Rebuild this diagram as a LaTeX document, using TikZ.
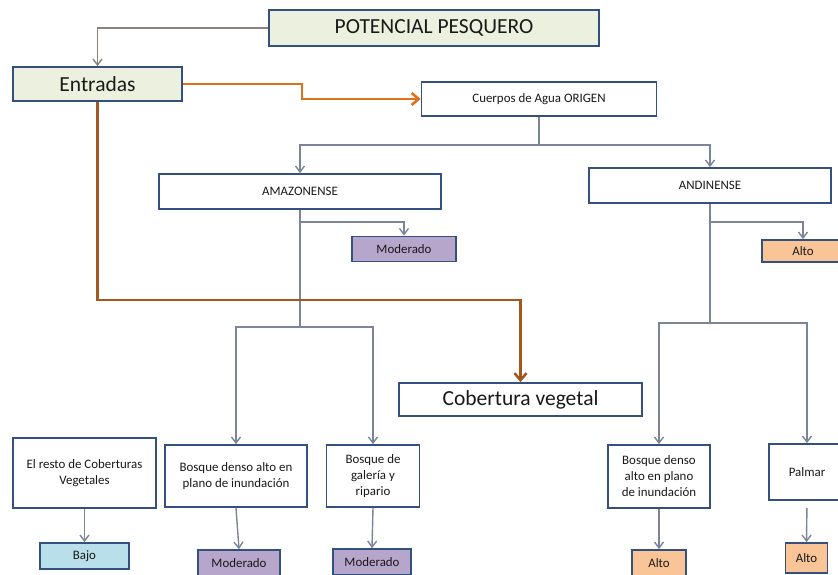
\documentclass[tikz,border=0pt]{standalone}
\usepackage{fontspec}
\setmainfont{Carlito}
\usetikzlibrary{arrows.meta}

\definecolor{boxline}{HTML}{34507F}
\definecolor{conn}{HTML}{7A859A}
\definecolor{topconn}{HTML}{8E817A}
\definecolor{orangeln}{HTML}{E0711C}
\definecolor{brownln}{HTML}{A2581F}
\definecolor{greenfill}{HTML}{EBF1DE}
\definecolor{modfill}{HTML}{B7A6CC}
\definecolor{altofill}{HTML}{F9C597}
\definecolor{bajofill}{HTML}{B9DFEA}

\newcommand\lblsmall{\fontsize{12.9}{16}\selectfont}
\newcommand\lblbig{\fontsize{21.5}{25}\selectfont}

\begin{document}
\begin{tikzpicture}[x=1pt,y=-1pt,
  box/.style={draw=boxline, line width=1.7pt, fill=white, inner sep=1pt,
              align=center, font=\lblsmall, text=black!90},
  bigbox/.style={box, font=\lblbig},
  greenbox/.style={bigbox, fill=greenfill},
  modbox/.style={box, fill=modfill},
  altobox/.style={box, fill=altofill},
  bajobox/.style={box, fill=bajofill},
  sz/.style 2 args={minimum width=#1, minimum height=#2},
  line/.style={draw=conn, line width=1.4pt},
  arr/.style={line, -{Straight Barb[length=6pt,width=9pt]}},
  toparr/.style={arr, draw=topconn},
  orangearr/.style={draw=orangeln, line width=2.6pt,
                    -{Straight Barb[length=7pt,width=12pt]}},
  brownarr/.style={draw=brownln, line width=2.6pt,
                   -{Straight Barb[length=7pt,width=12pt]}}
]
\useasboundingbox (0,0) rectangle (838,575);

% top level
\node[greenbox, sz={330pt}{36pt}] (pot) at (434,28) {POTENCIAL PESQUERO};
\node[greenbox, sz={169pt}{34pt}] (ent) at (97.5,84) {Entradas};
\node[box, sz={235pt}{34pt}] (cue) at (539,99) {Cuerpos de Agua ORIGEN};

% origin types
\node[box, sz={282pt}{35pt}] (ama) at (300,191.5) {AMAZONENSE};
\node[box, sz={242pt}{35pt}] (and) at (710,185.5) {ANDINENSE};
\node[modbox, sz={104pt}{25pt}] (modA) at (404,249) {Moderado};
\node[altobox, sz={82pt}{22pt}] (altA) at (803,251) {Alto};

% vegetation cover
\node[bigbox, sz={243pt}{33pt}] (cob) at (520.5,399.5) {Cobertura vegetal};

\node[box, sz={143pt}{70pt}] (resto) at (84.5,473) {El resto de Coberturas\\Vegetales};
\node[box, sz={142pt}{62pt}] (bdA) at (236,476) {Bosque denso alto en\\plano de inundación};
\node[box, sz={93pt}{62pt}] (bg) at (373,476) {Bosque de\\galería y\\ripario};
\node[box, sz={102pt}{63pt}] (bdN) at (659,476.5) {Bosque denso\\alto en plano\\de inundación};
\node[box, sz={76pt}{56pt}] (palm) at (807,472) {Palmar};

% ratings
\node[bajobox, sz={89pt}{26pt}] (bajo) at (84.5,556) {Bajo};
\node[modbox, sz={82pt}{26pt}] (modB1) at (239,563) {Moderado};
\node[modbox, sz={78pt}{26pt}] (modB2) at (372,562) {Moderado};
\node[altobox, sz={54pt}{26pt}] (altN1) at (659,563) {Alto};
\node[altobox, sz={42pt}{30pt}] (altN2) at (806.5,558) {Alto};

% junction points
\coordinate (ob) at (302,92);
\coordinate (bend) at (300,300);
\coordinate (jc) at (539,145);
\coordinate (ja1) at (300,222);
\coordinate (ja2) at (300,327);
\coordinate (jn1) at (710,222);
\coordinate (jn2) at (710,323);

% connectors
\draw[toparr] (pot.west) -| (ent.north);
\draw[orangearr] (ent.east) -| (ob) |- (cue.west);

\draw[arr] (cue.south) -- (jc) -| (ama.north);
\draw[arr] (jc) -| (and.north);

\draw[arr] (ama.south) -- (ja1) -| (modA.north);
\draw[line] (ja1) -- (ja2);
\draw[arr] (ja2) -| (bdA.north);
\draw[arr] (ja2) -| (bg.north);

\draw[arr] (and.south) -- (jn1) -| (altA.north);
\draw[line] (jn1) -- (jn2);
\draw[arr] (jn2) -| (bdN.north);
\draw[arr] (jn2) -| (palm.north);

\draw[brownarr] (ent.south) |- (bend) -| (cob.north);

\draw[arr] (resto.south) -- (bajo.north);
\draw[arr] (bdA.south) -- (modB1.north);
\draw[arr] (bg.south) -- (modB2.north);
\draw[arr] (bdN.south) -- (altN1.north);
\draw[arr, shorten <=7pt] (palm.south) -- (altN2.north);
\end{tikzpicture}
\end{document}
